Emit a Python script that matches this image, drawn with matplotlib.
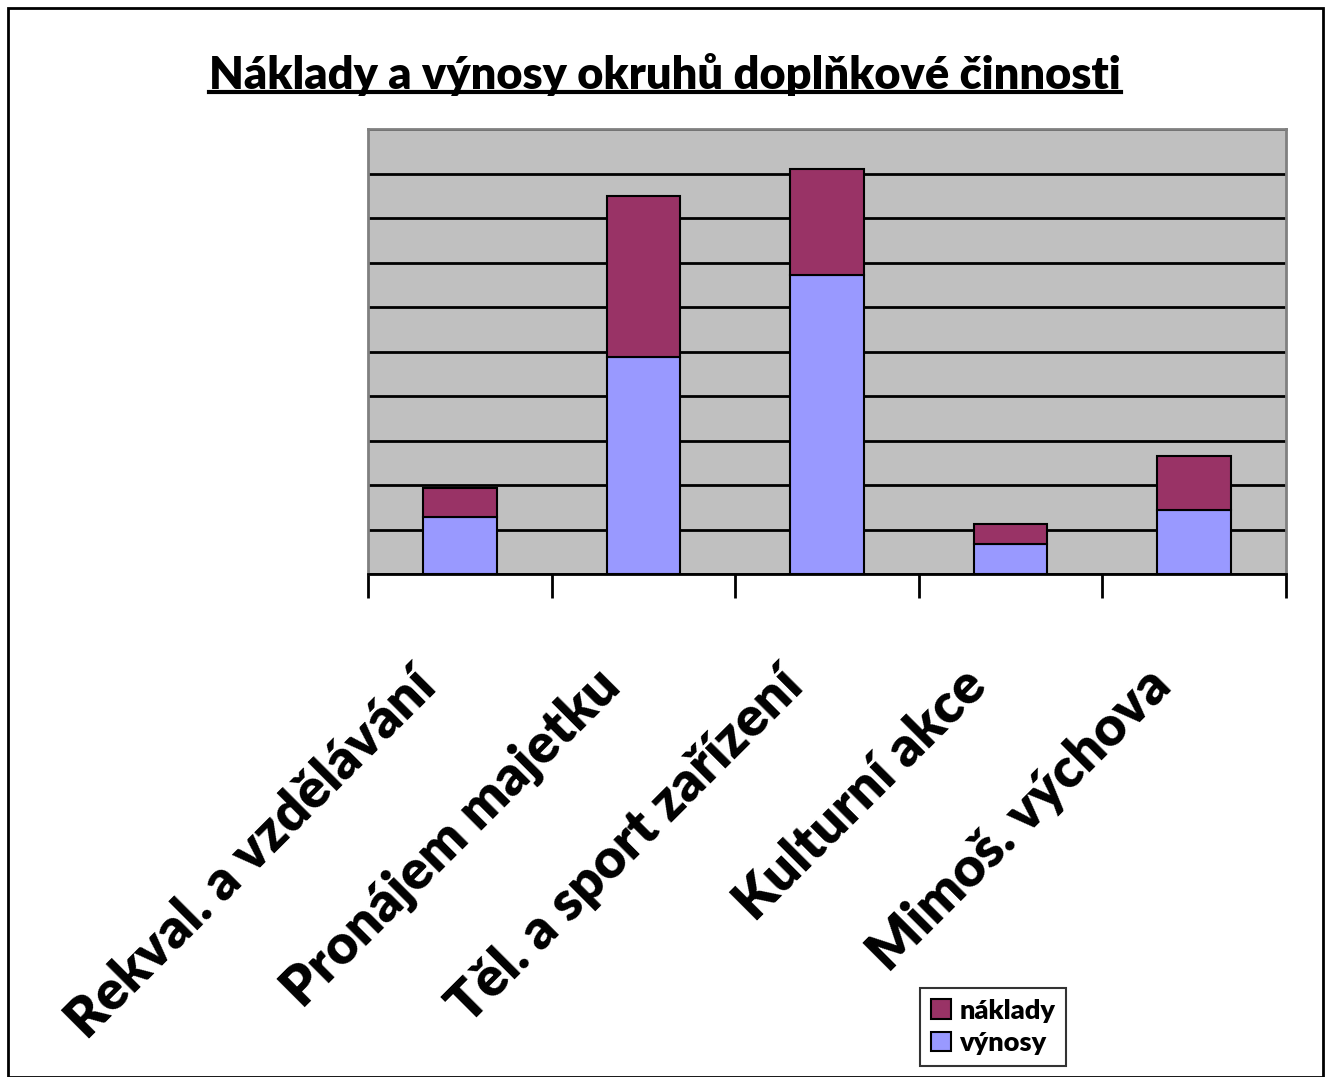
import matplotlib
matplotlib.use("Agg")
import matplotlib.pyplot as plt
import matplotlib.transforms as mtransforms
import numpy as np
from matplotlib.patches import Rectangle
from matplotlib.lines import Line2D

# data (grid units)
categories = ["Rekval. a vzdělávání", "Pronájem majetku", "Těl. a sport zařízení",
              "Kulturní akce", "Mimoš. výchova"]
vynosy = [1.28, 4.88, 6.72, 0.67, 1.44]
naklady = [0.65, 3.61, 2.38, 0.45, 1.21]

plt.rcParams['font.family'] = ['Lato', 'DejaVu Sans']

fig = plt.figure(figsize=(13.31, 10.77), dpi=100)
ax = fig.add_axes([368/1331, 1 - 574/1077, (1286 - 368)/1331, (574 - 129)/1077])
ax.set_facecolor('#C0C0C0')

x = np.arange(len(categories))
b1 = ax.bar(x, vynosy, 0.4, color='#9999FF', edgecolor='black', linewidth=1.5,
            label='výnosy', zorder=3)
b2 = ax.bar(x, naklady, 0.4, bottom=vynosy, color='#993366', edgecolor='black',
            linewidth=1.5, label='náklady', zorder=3)

ax.set_xlim(-0.5, len(categories) - 0.5)
ax.set_ylim(0, 10)
ax.set_yticks(np.arange(0, 11, 1))
ax.yaxis.grid(True, color='black', linewidth=2, zorder=1)
ax.tick_params(axis='y', length=0, labelleft=False)

# category boundary ticks, labels at centers
ax.set_xticks(np.arange(-0.5, len(categories), 1))
ax.set_xticklabels([])
ax.tick_params(axis='x', which='major', direction='out', length=17, width=2)
ax.set_xticks(x, minor=True)
ax.set_xticklabels(categories, minor=True, rotation=45, ha='right',
                   rotation_mode='anchor', fontsize=39.5, fontweight='heavy')
ax.tick_params(axis='x', which='minor', length=0, pad=62)
shift = mtransforms.ScaledTranslation(-0.5, 0, fig.dpi_scale_trans)
for lbl in ax.get_xticklabels(minor=True):
    lbl.set_transform(lbl.get_transform() + shift)

for side in ['left', 'top', 'right']:
    ax.spines[side].set_color('#808080')
    ax.spines[side].set_linewidth(2)
ax.spines['bottom'].set_color('black')
ax.spines['bottom'].set_linewidth(2)

leg = fig.legend([b2, b1], ['náklady', 'výnosy'], loc='upper left',
                 bbox_to_anchor=(920/1331, 1 - 988/1077), frameon=True,
                 fancybox=False, edgecolor='black',
                 prop={'weight': 'heavy', 'size': 19.5}, handlelength=0.75,
                 handleheight=0.75, handletextpad=0.3, borderpad=0.4,
                 labelspacing=0.3, borderaxespad=0)
leg.get_frame().set_linewidth(1.5)

title = fig.text(665/1331, 1 - 74/1077, "Náklady a výnosy okruhů doplňkové činnosti",
                 ha='center', va='center', fontsize=32.5, fontweight='heavy')

# underline for the title
fig.canvas.draw()
bb = title.get_window_extent().transformed(fig.transFigure.inverted())
fig.add_artist(Line2D([bb.x0, bb.x1], [bb.y0 + 0.003, bb.y0 + 0.003],
                      transform=fig.transFigure, color='black', linewidth=3))

# outer frame
fig.add_artist(Rectangle((8/1331, 0), 1 - 16/1331, 1 - 8/1077, transform=fig.transFigure,
                         fill=False, edgecolor='black', linewidth=2))

fig.savefig('out.png', dpi=100)
